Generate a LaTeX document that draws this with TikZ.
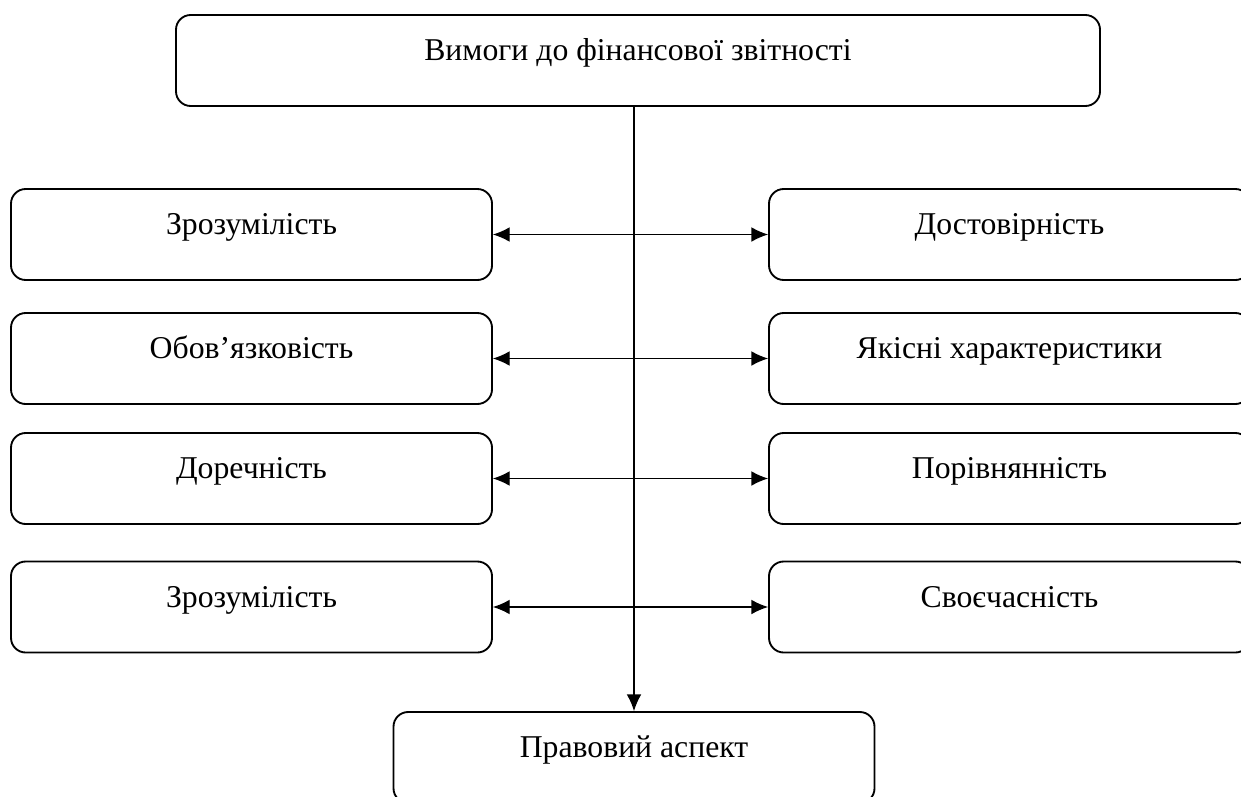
\documentclass[tikz,border=0pt]{standalone}
\usepackage{fontspec}
\setmainfont{Liberation Serif}
\usetikzlibrary{arrows.meta,positioning}

\begin{document}
\begin{tikzpicture}[x=0.75pt,y=-0.75pt,>={Latex[length=12.5pt,width=11pt]},
                    line width=0.9pt,
                    req/.style={draw,line width=1.4pt,rounded corners=11pt,
                                minimum width=360.75pt,minimum height=68.25pt,
                                text height=17pt,text depth=17pt,inner sep=0pt,
                                font=\fontsize{23.8}{28}\selectfont}]

	\useasboundingbox (0,0) rectangle (1241,796);

	\node[req,minimum width=693pt] (top)    at (638,60.5)    {Вимоги до фінансової звітності};

	\node[req] (l1) at (251.5,234.5)   {Зрозумілість};
	\node[req] (l2) at (251.5,358.5)   {Обов’язковість};
	\node[req] (l3) at (251.5,478.5)   {Доречність};
	\node[req] (l4) at (251.5,607)     {Зрозумілість};

	\node[req] (r1) at (1009.5,234.5)  {Достовірність};
	\node[req] (r2) at (1009.5,358.5)  {Якісні характеристики};
	\node[req] (r3) at (1009.5,478.5)  {Порівнянність};
	\node[req] (r4) at (1009.5,607)    {Своєчасність};

	\node[req] (law) at (634,757.5)    {Правовий аспект};

	\draw[->] (top.south -| law.north) -- (law.north);

	\draw[<->] (l1) -- (r1);
	\draw[<->] (l2) -- (r2);
	\draw[<->] (l3) -- (r3);
	\draw[<->] (l4) -- (r4);

\end{tikzpicture}
\end{document}
